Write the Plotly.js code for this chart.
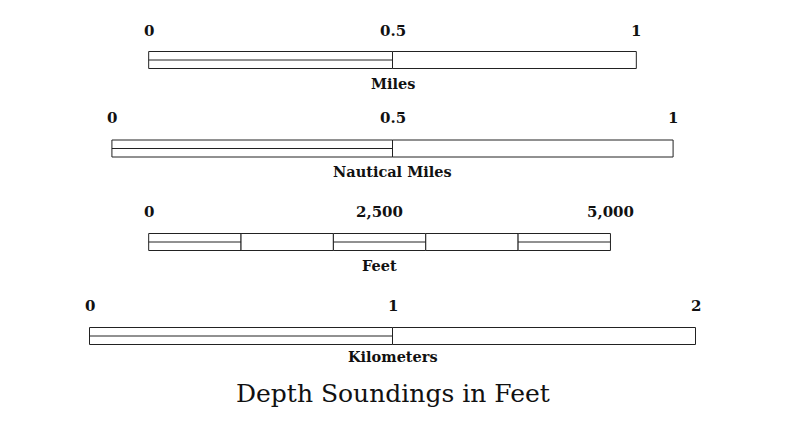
<!DOCTYPE html>
<html>
<head>
<meta charset="utf-8">
<script src="https://cdn.plot.ly/plotly-3.0.1.min.js"></script>
<style>html,body{margin:0;padding:0;background:#fff;}#chart{width:805px;height:438px;}</style>
</head>
<body>
<div id="chart"></div>
<script>
// ---- data ----
const unitNames = ['Miles', 'Nautical Miles', 'Feet', 'Kilometers'];
const kmPerUnit = [1.609344, 1.852, 0.0003048, 1];
const milesBreaks = [0, 0.5, 1];
const nauticalBreaks = [0, 0.5, 1];
const feetBreaks = [0, 1000, 2000, 3000, 4000, 5000];
const kmBreaks = [0, 1, 2];
const milesTicks = [0, 0.5, 1];
const nauticalTicks = [0, 0.5, 1];
const feetTicks = [0, 2500, 5000];
const kmTicks = [0, 1, 2];
const milesTickText = ['0', '0.5', '1'];
const nauticalTickText = ['0', '0.5', '1'];
const feetTickText = ['0', '2,500', '5,000'];
const kmTickText = ['0', '1', '2'];
const chartTitle = 'Depth Soundings in Feet';

// ---- layout helpers ----
const breaks = [milesBreaks, nauticalBreaks, feetBreaks, kmBreaks];
const ticks = [milesTicks, nauticalTicks, feetTicks, kmTicks];
const tickTexts = [milesTickText, nauticalTickText, feetTickText, kmTickText];
const rowCenter = [60, 148.5, 242, 336];
const barH = 17;
const tickY = [31, 118, 212, 306];
const nameY = [83, 171, 265, 356];
const center = 1; // km, centre of the kilometre bar

// start offsets in km: centred bars, feet aligned with miles
const lenKm = breaks.map((b, i) => b[b.length - 1] * kmPerUnit[i]);
const start = lenKm.map(L => center - L / 2);
start[2] = start[0];

const traces = [];
const annotations = [];
const FONT = 'Georgia, "DejaVu Serif", serif';

breaks.forEach((b, i) => {
  const bases = [], widths = [], ys = [];
  for (let k = 0; k < b.length - 1; k++) {
    bases.push(start[i] + b[k] * kmPerUnit[i]);
    widths.push((b[k + 1] - b[k]) * kmPerUnit[i]);
    ys.push(rowCenter[i]);
  }
  traces.push({
    type: 'bar', orientation: 'h', base: bases, x: widths, y: ys, width: barH,
    marker: {color: '#ffffff', line: {color: '#222222', width: 1}},
    hoverinfo: 'skip', showlegend: false
  });
  // mid lines on alternating segments
  const mx = [], my = [];
  for (let k = 0; k < b.length - 1; k += 2) {
    mx.push(start[i] + b[k] * kmPerUnit[i], start[i] + b[k + 1] * kmPerUnit[i], null);
    my.push(rowCenter[i], rowCenter[i], null);
  }
  traces.push({
    type: 'scatter', mode: 'lines', x: mx, y: my,
    line: {color: '#222222', width: 1}, hoverinfo: 'skip', showlegend: false
  });
  ticks[i].forEach((t, k) => {
    annotations.push({
      x: start[i] + t * kmPerUnit[i], y: tickY[i], xref: 'x', yref: 'y',
      text: '<b>' + tickTexts[i][k] + '</b>', showarrow: false,
      font: {family: FONT, size: 15, color: '#111'}, xanchor: 'center', yanchor: 'middle'
    });
  });
  annotations.push({
    x: start[i] + lenKm[i] / 2, y: nameY[i], xref: 'x', yref: 'y',
    text: '<b>' + unitNames[i] + '</b>', showarrow: false,
    font: {family: FONT, size: 14.5, color: '#111'}, xanchor: 'center', yanchor: 'middle'
  });
});

annotations.push({
  x: center, y: 393, xref: 'x', yref: 'y', text: chartTitle, showarrow: false,
  font: {family: FONT, size: 25, color: '#111'}, xanchor: 'center', yanchor: 'middle'
});

const pxPerKm = 303, originPx = 89.5;
const layout = {
  width: 805, height: 438,
  margin: {l: 0, r: 0, t: 0, b: 0},
  paper_bgcolor: '#fff', plot_bgcolor: '#fff',
  barmode: 'overlay',
  xaxis: {range: [-originPx / pxPerKm, (805 - originPx) / pxPerKm], visible: false, fixedrange: true},
  yaxis: {range: [438, 0], visible: false, fixedrange: true},
  annotations: annotations,
  showlegend: false
};
Plotly.newPlot('chart', traces, layout, {displayModeBar: false, staticPlot: true});
</script>
</body>
</html>
